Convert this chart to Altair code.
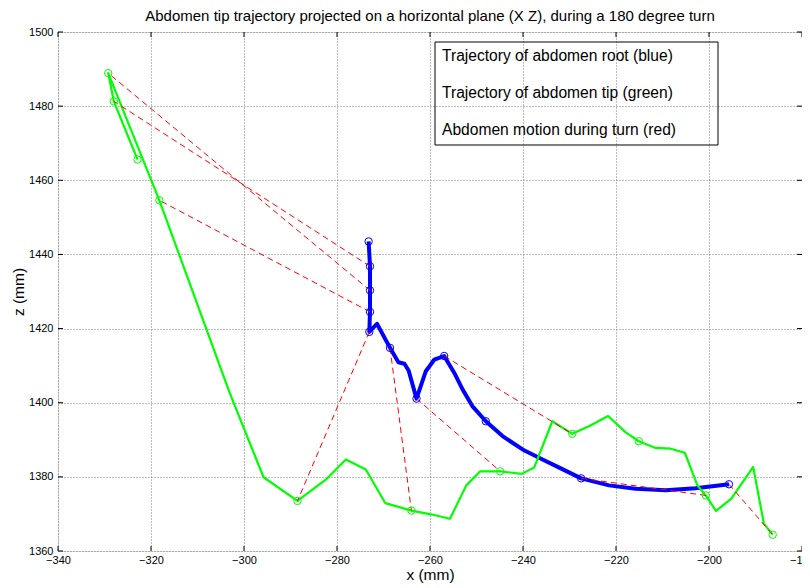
import altair as alt
import pandas as pd

# ---------------- data ----------------
title_text = "Abdomen tip trajectory projected on a horizontal plane (X Z), during a 180 degree turn"
x_ticks = [-340, -320, -300, -280, -260, -240, -220, -200, -180]
y_ticks = [1360, 1380, 1400, 1420, 1440, 1460, 1480, 1500]

# abdomen root trajectory (blue)
blue_x = [-273.2, -272.9, -272.9, -272.9, -273.05, -271.4, -268.6, -266.8, -265.5, -264.6,
          -262.9, -260.9, -259.1, -256.95, -254.8, -253.0, -250.9, -248.0, -244.4, -240.1,
          -235.8, -232.2, -227.5, -221.5, -215.8, -209.3, -202.9, -195.7]
blue_y = [1443.5, 1436.8, 1430.3, 1424.5, 1419.1, 1421.3, 1414.8, 1410.9, 1410.5, 1408.7,
          1401.1, 1408.5, 1411.6, 1412.6, 1408.1, 1403.6, 1399.1, 1395.0, 1391.0, 1387.4,
          1384.7, 1382.5, 1379.6, 1377.7, 1376.8, 1376.4, 1376.9, 1378.0]
blue_marker_idx = [0, 1, 2, 3, 4, 6, 10, 13, 17, 22, 27]

# abdomen tip trajectory (green)
green_x = [-322.9, -328.0, -329.2, -318.2, -303.1, -295.8, -288.5, -282.35, -278.1, -273.8,
           -269.6, -264.0, -259.8, -255.7, -252.2, -249.2, -244.9, -240.3, -237.6, -233.7,
           -229.4, -225.4, -221.7, -217.9, -215.1, -211.5, -208.25, -205.2, -202.5, -200.7,
           -198.5, -195.2, -190.5, -188.2, -186.3]
green_y = [1465.6, 1481.3, 1488.9, 1454.6, 1402.7, 1379.9, 1373.5, 1379.3, 1384.7, 1382.0,
           1372.9, 1370.9, 1369.9, 1368.7, 1377.7, 1381.5, 1381.5, 1380.8, 1382.5, 1395.0,
           1391.6, 1393.9, 1396.4, 1392.0, 1389.6, 1387.8, 1387.6, 1386.5, 1377.7, 1375.0,
           1370.8, 1374.1, 1382.7, 1367.4, 1364.4]
green_marker_idx = [0, 1, 2, 3, 6, 11, 16, 20, 24, 29, 34]

# abdomen segments drawn (red): which sample numbers are connected
red_samples = [1, 2, 3, 4, 5, 6, 7, 9, 10]

legend_lines = ["Trajectory of abdomen root (blue)",
                "Trajectory of abdomen tip (green)",
                "Abdomen motion during turn (red)"]

# ---------------- tables ----------------
blue_df = pd.DataFrame({"x": blue_x, "y": blue_y, "i": list(range(len(blue_x)))})
green_df = pd.DataFrame({"x": green_x, "y": green_y, "i": list(range(len(green_x)))})
blue_m = blue_df.iloc[blue_marker_idx]
green_m = green_df.iloc[green_marker_idx]
red_df = pd.DataFrame({
    "x": [blue_x[blue_marker_idx[k]] for k in red_samples],
    "y": [blue_y[blue_marker_idx[k]] for k in red_samples],
    "x2": [green_x[green_marker_idx[k]] for k in red_samples],
    "y2": [green_y[green_marker_idx[k]] for k in red_samples],
})
xt_df = pd.DataFrame({"x": x_ticks})
yt_df = pd.DataFrame({"y": y_ticks})

W, H = 744, 519
FONT = "Liberation Sans"

xs = alt.Scale(domain=[-340, -180], nice=False, zero=False)
ys = alt.Scale(domain=[1360, 1500], nice=False, zero=False)


def X(field="x"):
    return alt.X(f"{field}:Q", scale=xs, title="x (mm)",
                 axis=alt.Axis(values=x_ticks, format="d", grid=True, ticks=False, domain=False,
                               labelFlush=False, labelOverlap=False,
                               gridDash=[1, 2], gridColor="#7a7a7a", gridWidth=1,
                               labelFont=FONT, labelFontSize=11, labelColor="black", labelPadding=3,
                               titleFont=FONT, titleFontSize=15.5, titleFontWeight="normal",
                               titleColor="black", titlePadding=2))


def Y(field="y"):
    return alt.Y(f"{field}:Q", scale=ys, title="z (mm)",
                 axis=alt.Axis(values=y_ticks, format="d", grid=True, ticks=False, domain=False,
                               labelFlush=False, labelOverlap=False,
                               gridDash=[1, 2], gridColor="#7a7a7a", gridWidth=1,
                               labelFont=FONT, labelFontSize=11, labelColor="black", labelPadding=5,
                               titleFont=FONT, titleFontSize=15.5, titleFontWeight="normal",
                               titleColor="black", titlePadding=2))


blue_line = alt.Chart(blue_df).mark_line(color="#0000ff", strokeWidth=4, strokeJoin="round").encode(
    x=X(), y=Y(), order="i:Q")
blue_pts = alt.Chart(blue_m).mark_point(shape="circle", filled=False, size=55, strokeWidth=1,
                                        color="#0000ff", opacity=1).encode(x=X(), y=Y())
green_line = alt.Chart(green_df).mark_line(color="#00ff00", strokeWidth=2.2, strokeJoin="round").encode(
    x=X(), y=Y(), order="i:Q")
green_pts = alt.Chart(green_m).mark_point(shape="circle", filled=False, size=55, strokeWidth=1,
                                          color="#00ff00", opacity=1).encode(x=X(), y=Y())
red_rules = alt.Chart(red_df).mark_rule(color="#ff0000", strokeWidth=1, strokeDash=[6, 4]).encode(
    x=X(), y=Y(), x2="x2:Q", y2="y2:Q")

# inward tick marks on all four sides
tick_b = alt.Chart(xt_df).mark_rule(color="black").encode(x=X(), y=alt.value(H), y2=alt.value(H - 5))
tick_t = alt.Chart(xt_df).mark_rule(color="black").encode(x=X(), y=alt.value(0), y2=alt.value(5))
tick_l = alt.Chart(yt_df).mark_rule(color="black").encode(y=Y(), x=alt.value(0), x2=alt.value(5))
tick_r = alt.Chart(yt_df).mark_rule(color="black").encode(y=Y(), x=alt.value(W), x2=alt.value(W - 5))

# text box legend
leg_box = alt.Chart(pd.DataFrame({"a": [0]})).mark_rect(
    fillOpacity=0, stroke="black", strokeWidth=1).encode(
    x=alt.value(377), x2=alt.value(660), y=alt.value(10), y2=alt.value(113))
leg_texts = []
for k, t in enumerate(legend_lines):
    leg_texts.append(
        alt.Chart(pd.DataFrame({"a": [0]})).mark_text(
            align="left", baseline="alphabetic", font=FONT, fontSize=15.6, color="black").encode(
            x=alt.value(384), y=alt.value(29 + 37 * k), text=alt.value(t)))

chart = alt.layer(
    blue_line, green_line, red_rules, blue_pts, green_pts,
    tick_b, tick_t, tick_l, tick_r, leg_box, *leg_texts
).properties(
    width=W, height=H,
    title=alt.TitleParams(title_text, font=FONT, fontSize=15, fontWeight="normal",
                          color="black", anchor="middle", offset=2),
    autosize=alt.AutoSizeParams(type="none"),
    padding={"left": 50, "top": 24, "right": 0, "bottom": 36},
).configure_view(stroke="black", strokeWidth=1.2).configure(background="white")

chart.save("out.html", embed_options={"renderer": "svg", "actions": False})
